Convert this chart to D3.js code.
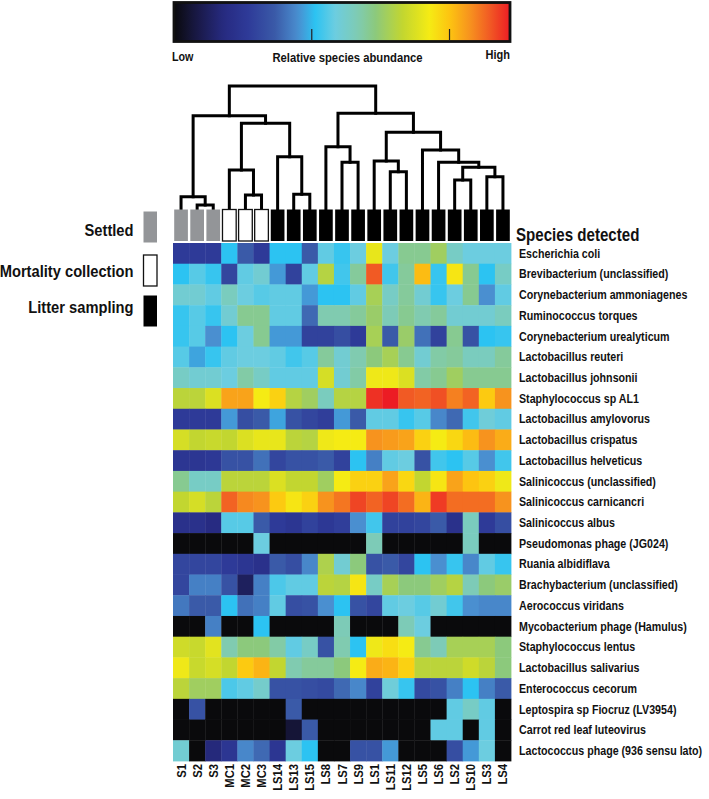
<!DOCTYPE html>
<html><head><meta charset="utf-8">
<script src="https://cdn.jsdelivr.net/npm/d3@7"></script>
<style>
body{margin:0;background:#fff}
svg text{font-family:"Liberation Sans",Arial,Helvetica,sans-serif;font-weight:bold;fill:#111}
</style>
</head><body><svg id="chart" width="709" height="799"></svg>
<script>
// ---------- DATA ----------
const samples = ["S1","S2","S3","MC1","MC2","MC3","LS14","LS13","LS15","LS8","LS7","LS9","LS1","LS11","LS12","LS5","LS6","LS2","LS10","LS3","LS4"];
const sampleGroup = ["Settled","Settled","Settled","Mortality","Mortality","Mortality","Litter","Litter","Litter","Litter","Litter","Litter","Litter","Litter","Litter","Litter","Litter","Litter","Litter","Litter","Litter"];
const species = ["Escherichia coli","Brevibacterium (unclassified)","Corynebacterium ammoniagenes","Ruminococcus torques","Corynebacterium urealyticum","Lactobacillus reuteri","Lactobacillus johnsonii","Staphylococcus sp AL1","Lactobacillus amylovorus","Lactobacillus crispatus","Lactobacillus helveticus","Salinicoccus (unclassified)","Salinicoccus carnicancri","Salinicoccus albus","Pseudomonas phage (JG024)","Ruania albidiflava","Brachybacterium (unclassified)","Aerococcus viridans","Mycobacterium phage (Hamulus)","Staphylococcus lentus","Lactobacillus salivarius","Enterococcus cecorum","Leptospira sp Fiocruz (LV3954)","Carrot red leaf luteovirus","Lactococcus phage (936 sensu lato)"];
// relative abundance (0 = low, 1 = high), one row per species, columns in sample order
const abundance = [
 [0.22,0.22,0.22,0.42,0.30,0.22,0.42,0.42,0.30,0.47,0.43,0.48,0.74,0.48,0.58,0.58,0.63,0.52,0.48,0.48,0.48],
 [0.42,0.46,0.43,0.25,0.47,0.50,0.38,0.24,0.47,0.66,0.44,0.57,0.94,0.44,0.57,0.83,0.43,0.77,0.58,0.42,0.52],
 [0.50,0.50,0.47,0.53,0.48,0.46,0.47,0.47,0.38,0.42,0.42,0.47,0.64,0.52,0.57,0.50,0.43,0.48,0.58,0.37,0.47],
 [0.43,0.46,0.43,0.50,0.58,0.58,0.47,0.47,0.32,0.55,0.55,0.57,0.62,0.54,0.58,0.55,0.57,0.50,0.50,0.50,0.53],
 [0.43,0.46,0.37,0.42,0.48,0.58,0.38,0.38,0.24,0.24,0.27,0.22,0.64,0.30,0.62,0.33,0.24,0.58,0.28,0.42,0.43],
 [0.46,0.39,0.43,0.47,0.48,0.48,0.47,0.44,0.46,0.57,0.50,0.55,0.60,0.64,0.58,0.50,0.56,0.57,0.53,0.53,0.57],
 [0.52,0.50,0.50,0.48,0.56,0.52,0.47,0.47,0.47,0.71,0.50,0.56,0.75,0.75,0.72,0.56,0.58,0.63,0.58,0.58,0.58],
 [0.67,0.67,0.72,0.86,0.86,0.76,0.80,0.66,0.63,0.53,0.66,0.66,0.98,1.00,0.94,0.93,0.95,0.90,0.93,0.81,0.88],
 [0.22,0.22,0.22,0.38,0.27,0.30,0.39,0.28,0.25,0.23,0.38,0.30,0.47,0.47,0.43,0.46,0.36,0.32,0.44,0.49,0.47],
 [0.71,0.68,0.69,0.68,0.72,0.74,0.74,0.67,0.66,0.75,0.76,0.76,0.88,0.87,0.86,0.80,0.76,0.79,0.83,0.88,0.85],
 [0.20,0.20,0.21,0.28,0.28,0.33,0.25,0.28,0.28,0.30,0.24,0.42,0.35,0.47,0.48,0.28,0.44,0.42,0.46,0.37,0.44],
 [0.58,0.52,0.52,0.67,0.67,0.67,0.72,0.68,0.68,0.63,0.76,0.80,0.80,0.86,0.79,0.68,0.77,0.86,0.82,0.80,0.75],
 [0.68,0.71,0.67,0.93,0.89,0.88,0.81,0.77,0.80,0.88,0.91,0.96,0.93,0.96,0.92,0.84,0.97,0.92,0.92,0.92,0.88],
 [0.18,0.18,0.15,0.46,0.46,0.30,0.22,0.20,0.24,0.21,0.23,0.37,0.44,0.24,0.24,0.25,0.30,0.18,0.53,0.22,0.27],
 [0,0,0,0,0,0.48,0,0,0,0,0,0,0.54,0,0,0,0,0,0.53,0,0],
 [0.25,0.25,0.25,0.22,0.20,0.18,0.30,0.27,0.36,0.65,0.50,0.60,0.28,0.30,0.25,0.42,0.37,0.43,0.36,0.47,0.43],
 [0.25,0.35,0.35,0.28,0.10,0.35,0.45,0.47,0.47,0.67,0.66,0.77,0.52,0.64,0.60,0.60,0.63,0.66,0.54,0.60,0.62],
 [0.34,0.30,0.30,0.42,0.33,0.35,0.47,0.27,0.28,0.37,0.42,0.28,0.25,0.47,0.48,0.46,0.50,0.44,0.37,0.36,0.36],
 [0,0,0.35,0,0,0.42,0,0,0,0,0.54,0,0,0,0.54,0.48,0,0,0,0,0],
 [0.70,0.69,0.73,0.55,0.60,0.60,0.56,0.47,0.52,0.28,0.55,0.42,0.75,0.78,0.76,0.58,0.54,0.64,0.64,0.64,0.60],
 [0.75,0.69,0.71,0.68,0.81,0.84,0.68,0.55,0.57,0.57,0.60,0.76,0.85,0.84,0.80,0.67,0.67,0.67,0.70,0.67,0.60],
 [0.67,0.63,0.63,0.45,0.47,0.51,0.28,0.28,0.27,0.26,0.32,0.36,0.24,0.49,0.43,0.26,0.28,0.35,0.42,0.35,0.30],
 [0,0.28,0,0,0,0,0,0.30,0,0,0,0,0,0,0,0,0,0.47,0.52,0.47,0],
 [0,0,0,0,0,0,0,0.05,0.30,0,0,0,0,0,0,0,0.47,0.47,0,0.47,0],
 [0.50,0,0.14,0.20,0.36,0.32,0.20,0.48,0.42,0,0,0.28,0.28,0.38,0,0,0,0.27,0.38,0.48,0]
];
// colour scale stops (value -> colour)
const colorStops = [0,0.06,0.15,0.22,0.30,0.37,0.42,0.48,0.55,0.60,0.68,0.76,0.82,0.88,0.94,1.0];
const colorRange = ["#0a0a0c","#17173f","#272b82","#2e3a98","#3a5aa8","#4a8fd0","#2cc3f2","#6ccde0","#80cbb0","#8cc97c","#c2d630","#f5eb14","#fdc411","#f7931e","#f15a24","#ec1c24"];
const colorbarTicks = [0.41, 0.82];
const legendItems = ["Settled","Mortality collection","Litter sampling"];
const legendGroups = ["Settled","Mortality","Litter"];
// sample dendrogram (merge heights, relative)
const dendrogram = {h:1.0, c:[
  {h:0.758, c:[
    {h:0.10, c:["S1",{h:0.033,c:["S2","S3"]}]},
    {h:0.697, c:[
      {h:0.317, c:["MC1",{h:0.114,c:["MC2","MC3"]}]},
      {h:0.425, c:["LS14",{h:0.12,c:["LS13","LS15"]}]}
    ]}
  ]},
  {h:0.778, c:[
    {h:0.507, c:["LS8",{h:0.38,c:["LS7","LS9"]}]},
    {h:0.624, c:[
      {h:0.39, c:["LS1",{h:0.303,c:["LS11","LS12"]}]},
      {h:0.48, c:["LS5",{h:0.38,c:["LS6",{h:0.339,c:[{h:0.236,c:["LS2","LS10"]},{h:0.263,c:["LS3","LS4"]}]}]}]}
    ]}
  ]}
]};

// ---------- DRAW ----------
const svg = d3.select("#chart");
const x = d3.scaleBand().domain(samples).range([173, 511]);
const y = d3.scaleBand().domain(species).range([243, 761]);
const color = d3.scaleLinear().domain(colorStops).range(colorRange).interpolate(d3.interpolateRgb).clamp(true);
const groupFill = {Settled:"#939598", Mortality:"#ffffff", Litter:"#000000"};

// condensed text helper: draws text, then squeezes horizontally
function ctext(g, tx, ty, str, size, sx, anchor, rot) {
  return g.append("text")
    .attr("transform", `translate(${tx},${ty})` + (rot ? ` rotate(${rot})` : "") + ` scale(${sx},1)`)
    .attr("font-size", size).attr("text-anchor", anchor || "start").text(str);
}

// colour bar
const cb = d3.scaleLinear().domain([0,1]).range([174, 510]);
const defs = svg.append("defs");
const grad = defs.append("linearGradient").attr("id","cbg").attr("x1","0%").attr("x2","100%");
d3.range(0,1.0001,0.02).forEach(t => grad.append("stop").attr("offset", (t*100)+"%").attr("stop-color", color(t)));
svg.append("rect").attr("x",cb(0)).attr("y",2.5).attr("width",cb(1)-cb(0)).attr("height",39)
  .attr("fill","url(#cbg)").attr("stroke","#111").attr("stroke-width",2.8);
svg.selectAll(".cbt").data(colorbarTicks).join("line")
  .attr("x1",d=>cb(d)).attr("x2",d=>cb(d)).attr("y1",29).attr("y2",41)
  .attr("stroke","#222").attr("stroke-width",1.2);
ctext(svg,172,61,"Low",12.5,0.86,"start");
ctext(svg,347.5,61.5,"Relative species abundance",12.8,0.88,"middle");
ctext(svg,510,59,"High",12.8,0.86,"end");

// dendrogram
const root = d3.hierarchy(dendrogram, d => typeof d === "string" ? null : d.c);
const dy = d3.scaleLinear().domain([0,1]).range([209, 86]);
root.eachAfter(n => {
  if (!n.children) { n.px = x(n.data) + x.bandwidth()/2; n.py = dy(0); }
  else { n.px = (n.children[0].px + n.children[n.children.length-1].px)/2; n.py = dy(n.data.h); }
});
const dg = svg.append("g").attr("stroke","#000").attr("stroke-width",3).attr("fill","none").attr("stroke-linecap","square");
root.descendants().filter(n => n.children).forEach(n => {
  const a = n.children[0], b = n.children[1];
  dg.append("path").attr("d", `M${a.px},${a.py}V${n.py}H${b.px}V${b.py}`);
});

// annotation boxes
svg.selectAll(".ann").data(samples).join("rect")
  .attr("x", d => x(d)+1.2).attr("y",209.5).attr("width", x.bandwidth()-2.4).attr("height",31.5)
  .attr("fill", (d,i) => groupFill[sampleGroup[i]])
  .attr("stroke", (d,i) => sampleGroup[i]==="Mortality" ? "#111" : "none").attr("stroke-width",1.3);

// heatmap
const cells = [];
abundance.forEach((row,ri) => row.forEach((v,ci) => cells.push({s:species[ri], c:samples[ci], v})));
svg.append("g").selectAll("rect").data(cells).join("rect")
  .attr("x", d => x(d.c)).attr("y", d => y(d.s))
  .attr("width", x.bandwidth()+0.4).attr("height", y.bandwidth()+0.4)
  .attr("fill", d => color(d.v));

// row labels
ctext(svg,516,240.5,"Species detected",18,0.84,"start");
const rl = svg.append("g");
species.forEach(s => ctext(rl,519,y(s)+y.bandwidth()/2+4.3,s,12.2,0.875,"start"));

// column labels
const cl = svg.append("g");
samples.forEach(s => ctext(cl, x(s)+x.bandwidth()/2+4.5, 764, s, 12.5, 0.9, "end", -90));

// group legend
const ly = [211.5, 255, 295.5];
const lyText = [236, 276.5, 313];
legendItems.forEach((t,i) => {
  svg.append("rect").attr("x",143.5).attr("y",ly[i]).attr("width",13.5).attr("height",31)
    .attr("fill", groupFill[legendGroups[i]])
    .attr("stroke", legendGroups[i]==="Mortality" ? "#111" : "none").attr("stroke-width",1.3);
  ctext(svg,133.5,lyText[i],t,16.8,0.875,"end");
});
</script>
</body></html>
